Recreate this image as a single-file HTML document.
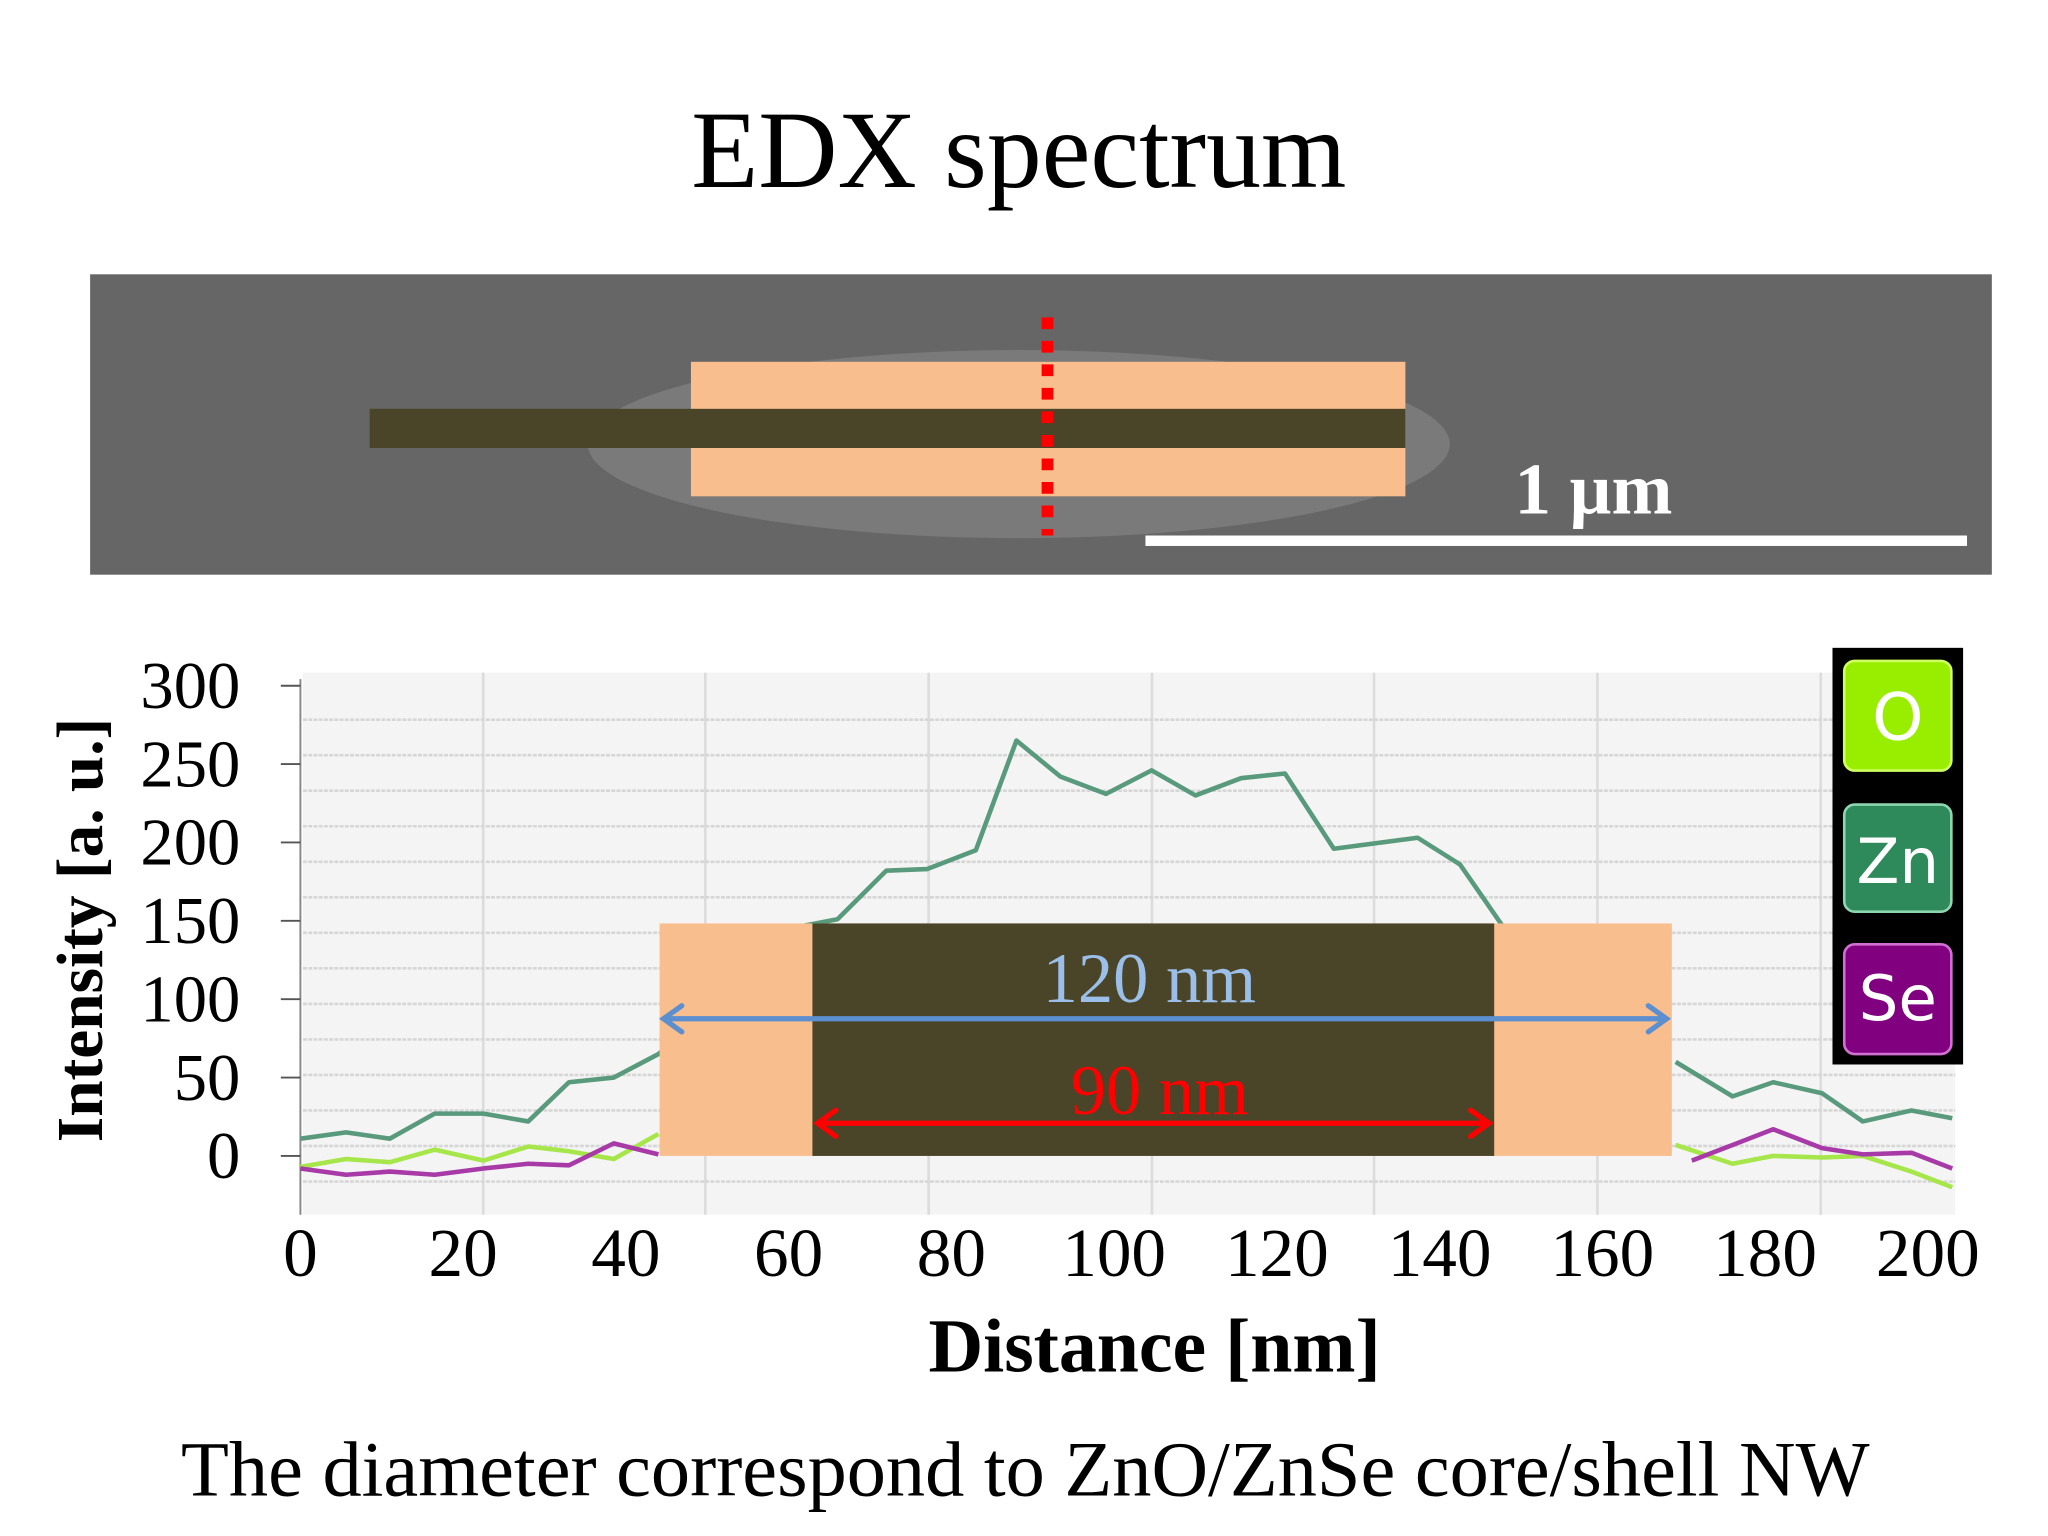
<!DOCTYPE html>
<html><head><meta charset="utf-8"><style>
html,body{margin:0;padding:0;background:#fff;}
svg{display:block;}
</style></head><body>
<svg width="2048" height="1536" viewBox="0 0 1568 1176" xmlns="http://www.w3.org/2000/svg">
<rect width="1568" height="1176" fill="#fff"/>
<text x="780" y="143" text-anchor="middle" font-family="Liberation Serif, serif" font-size="84" fill="#000">EDX spectrum</text>

<g>
<rect x="69" y="210" width="1456" height="230" fill="#666666"/>
<ellipse cx="780" cy="340" rx="330" ry="72" fill="#7a7a7a"/>
<rect x="529" y="277" width="547" height="103" fill="#f8be8e"/>
<rect x="283" y="313" width="793" height="30" fill="#4a4528"/>
<line x1="802" y1="243" x2="802" y2="410" stroke="#ff0000" stroke-width="9" stroke-dasharray="9,9"/>
<rect x="877" y="410" width="629" height="8" fill="#fff"/>
<text x="1220" y="393" text-anchor="middle" font-family="Liberation Serif, serif" font-weight="bold" font-size="56" fill="#fff">1 µm</text>
</g>

<g id="chart"></g>

<g>
<rect x="1403" y="496" width="100" height="319" fill="#000"/>
<rect x="1412" y="506" width="82" height="84" rx="8" fill="#99ee00" stroke="#cfff60" stroke-width="2"/>
<text x="1453" y="566" text-anchor="middle" font-family="DejaVu Sans, sans-serif" font-size="50" fill="#fff">O</text>
<rect x="1412" y="616" width="82" height="82" rx="8" fill="#2e8a5a" stroke="#8fd6b0" stroke-width="2"/>
<text x="1453" y="676" text-anchor="middle" font-family="DejaVu Sans, sans-serif" font-size="48" fill="#fff">Zn</text>
<rect x="1412" y="723" width="82" height="84" rx="8" fill="#800080" stroke="#d070d0" stroke-width="2"/>
<text x="1453" y="781" text-anchor="middle" font-family="DejaVu Sans, sans-serif" font-size="48" fill="#fff">Se</text>
</g>

<text transform="translate(78,712) rotate(-90)" text-anchor="middle" font-family="Liberation Serif, serif" font-weight="bold" font-size="50" fill="#000">Intensity [a. u.]</text>
<text x="884" y="1050" text-anchor="middle" font-family="Liberation Serif, serif" font-weight="bold" font-size="58" fill="#000">Distance [nm]</text>
<text x="785" y="1145" text-anchor="middle" font-family="Liberation Serif, serif" font-size="60" fill="#000">The diameter correspond to ZnO/ZnSe core/shell NW</text>
</svg>
<script>
var xTicks=[0,20,40,60,80,100,120,140,160,180,200];
var yTicks=[0,50,100,150,200,250,300];
var znX=[0,5.6,11,16.5,22.5,28,33,38.5,44,62,66,72,77,83,88,93.4,99,104.6,110,115.6,121,127,137.3,142.5,147.7,169,176,181,187,192,198,203];
var znY=[11,15,11,27,27,22,47,50,65,147,151,182,183,195,265,242,231,246,230,241,244,196,203,186,147,60,38,47,40,22,29,24];
var oX=[0,5.6,11,16.5,22.5,28,33,38.5,44,169,176,181,187,192,198,203];
var oY=[-7,-2,-4,4,-3,6,3,-2,14,7,-5,0,-1,0,-10,-20];
var seX=[0,5.6,11,16.5,22.5,28,33,38.5,44,171,176,181,187,192,198,203];
var seY=[-8,-12,-10,-12,-8,-5,-6,8,1,-3,7,17,5,1,2,-8];

var NS='http://www.w3.org/2000/svg';
var g=document.getElementById('chart');
function sx(v){return 230+6.23*v;}
function sy(v){return 885-1.2*v;}
function mk(t,a){var e=document.createElementNS(NS,t);for(var k in a)e.setAttribute(k,a[k]);g.appendChild(e);return e;}

var bg=mk('rect',{x:232,y:515,width:1265,height:415,fill:'#f4f4f4'});


[370,540,711,882,1052,1223,1394].forEach(function(x){
  var l=mk('line',{x1:x,y1:515,x2:x,y2:930,stroke:'#dcdcdc','stroke-width':2});
  
  
});
for(var yy=551;yy<=906;yy+=27.2){
  var l=mk('line',{x1:232,y1:yy,x2:1497,y2:yy,stroke:'#d6d6d6','stroke-width':2,'stroke-dasharray':'3,1'});
  
  
}
var ax=mk('line',{x1:230,y1:520,x2:230,y2:930,stroke:'#888','stroke-width':1.5});



yTicks.forEach(function(v){
  var t=mk('line',{x1:215,y1:sy(v),x2:230,y2:sy(v),stroke:'#555','stroke-width':1.5});
  
  
  var tx=mk('text',{x:184,y:sy(v)+17,'text-anchor':'end','font-family':'Liberation Serif, serif','font-size':51,fill:'#000'});
  tx.textContent=v;
  
  
});
xTicks.forEach(function(v){
  var tx=mk('text',{x:sx(v),y:977,'text-anchor':'middle','font-family':'Liberation Serif, serif','font-size':53,fill:'#000'});
  tx.textContent=v;
  
  
});

function line(xs,ys,col,name){
  var d='';
  for(var i=0;i<xs.length;i++){
    var brk=(i===0)||(xs[i]-xs[i-1]>20);
    d+=(brk?'M':'L')+sx(xs[i]).toFixed(1)+','+sy(ys[i]).toFixed(1);
  }
  var p=mk('path',{d:d,fill:'none',stroke:col,'stroke-width':3.5,'stroke-linejoin':'round'});
  
  
}
line(oX,oY,'#a6e64a','series-o');
line(seX,seY,'#a83aa8','series-se');
line(znX,znY,'#5a9a7c','series-zn');

var r1=mk('rect',{x:505,y:707,width:775,height:178,fill:'#f8be8e'});


var r2=mk('rect',{x:622,y:707,width:522,height:178,fill:'#4a4528'});



function arrow(x1,x2,y,col,name){
  var a=mk('path',{d:'M'+x1+','+y+'L'+x2+','+y+'M'+(x1+14)+','+(y-10)+'L'+x1+','+y+'L'+(x1+14)+','+(y+10)+'M'+(x2-14)+','+(y-10)+'L'+x2+','+y+'L'+(x2-14)+','+(y+10),fill:'none',stroke:col,'stroke-width':4,'stroke-linecap':'round'});
  
  
}
arrow(508,1276,780,'#5b8fd0','arrow-120nm');
arrow(626,1140,860,'#ff0000','arrow-90nm');
var t1=mk('text',{x:880,y:767,'text-anchor':'middle','font-family':'Liberation Serif, serif','font-size':54,fill:'#9bbfe8'});
t1.textContent='120 nm';


var t2=mk('text',{x:888,y:853,'text-anchor':'middle','font-family':'Liberation Serif, serif','font-size':54,fill:'#ff0000'});
t2.textContent='90 nm';


</script>
</body></html>
